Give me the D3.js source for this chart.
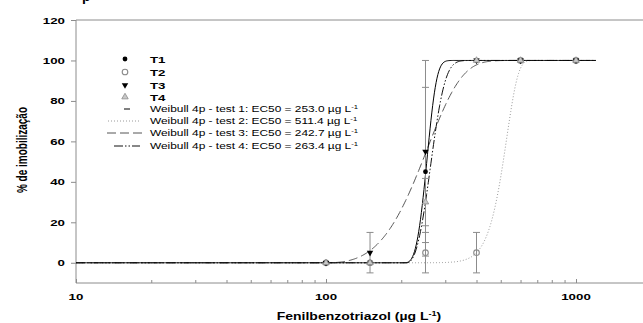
<!DOCTYPE html>
<html>
<head>
<meta charset="utf-8">
<script src="https://cdn.jsdelivr.net/npm/d3@7"></script>
<style>
body{margin:0;background:#fff}
text{font-family:"Liberation Sans",Arial,sans-serif}
</style>
</head>
<body>
<svg id="chart" width="643" height="323"></svg>
<script>
// measured data (mean % immobilised, +/- error)
var conc  = [100, 150, 250, 400, 600, 1000];
var t1    = [0, 0, 45, 100, 100, 100];
var t1Err = [0, 0, 41.7, 0, 0, 0];
var t2    = [0, 0, 5, 5, 100, 100];
var t2Err = [0, 0, 10, 10, 0, 0];
var t3    = [0, 5, 55, 100, 100, 100];
var t3Err = [0, 10, 45, 0, 0, 0];
var t4    = [0, 0, 30, 100, 100, 100];
var t4Err = [0, 0, 11.7, 0, 0, 0];

// Weibull 4p fits (max = 100): EC50, shape c, onset x
var fitEC50  = [253.0, 511.4, 242.7, 263.4];
var fitShape = [3.0, 7.07, 2.3, 2.29];
var fitStart = [205, 150, 100, 210];
var fitRange = [10, 1200];

var yTicks = [0, 20, 40, 60, 80, 100, 120];
var xTicks = [10, 100, 1000];
var legendT = ["T1", "T2", "T3", "T4"];
var legendFit = ["Weibull 4p - test 1: EC50 = 253.0 \u00b5g L",
                 "Weibull 4p - test 2: EC50 = 511.4 \u00b5g L",
                 "Weibull 4p - test 3: EC50 = 242.7 \u00b5g L",
                 "Weibull 4p - test 4: EC50 = 263.4 \u00b5g L"];

var W = 643, H = 323;
var plotLeft = 76, plotTop = 20, plotBottom = 283;
var stretch = 1.4;   // the original picture is widened horizontally
var axisGrey = "#8c8c8c";

var svg = d3.select("#chart");
var x = d3.scaleLog().domain([10, 1000]).range([plotLeft, 576]);
var y = d3.scaleLinear().domain([-10, 120]).range([plotBottom, plotTop]);

function label(g, px, py, str, size, weight, anchor){
  return g.append("text")
    .attr("transform", "translate(" + px + "," + py + ") scale(" + stretch + ",1)")
    .attr("font-size", size)
    .attr("font-weight", weight)
    .attr("text-anchor", anchor)
    .attr("fill", "#000")
    .text(str);
}

// cropped title remnant at top
svg.append("text").attr("x", 82).attr("y", 1).attr("font-size", 14)
  .attr("font-weight", "bold").text("p");

// frame
svg.append("line").attr("x1", plotLeft).attr("x2", W).attr("y1", plotTop).attr("y2", plotTop)
  .style("stroke", axisGrey);
svg.append("line").attr("x1", plotLeft).attr("x2", W).attr("y1", plotBottom).attr("y2", plotBottom)
  .style("stroke", axisGrey);
svg.append("line").attr("x1", plotLeft).attr("x2", plotLeft).attr("y1", plotTop).attr("y2", plotBottom)
  .style("stroke", axisGrey);

// y axis
var yAxis = svg.append("g").attr("transform", "translate(" + plotLeft + ",0)")
  .call(d3.axisLeft(y).tickValues(yTicks).tickSize(5).tickFormat(""));
yAxis.select(".domain").remove();
yAxis.selectAll("line").style("stroke", axisGrey);
yTicks.forEach(function(v){
  label(svg, 65, y(v) + 3.5, v, 9.5, "bold", "end");
});

// x axis ticks, drawn inward
var minor = [];
[10, 100, 1000].forEach(function(d){
  for (var k = 2; k <= 9; k++) minor.push(d * k);
});
var xAxis = svg.append("g").attr("transform", "translate(0," + plotBottom + ")")
  .call(d3.axisBottom(x).tickValues(minor).tickSize(-3).tickFormat(""));
xAxis.select(".domain").remove();
xAxis.selectAll("line").style("stroke", axisGrey);
var xMajor = svg.append("g").attr("transform", "translate(0," + plotBottom + ")")
  .call(d3.axisBottom(x).tickValues(xTicks).tickSize(-4).tickFormat(""));
xMajor.select(".domain").remove();
xMajor.selectAll("line").style("stroke", axisGrey);
xTicks.forEach(function(v){
  label(svg, x(v), 300, v, 9.5, "bold", "middle");
});

// axis titles
var xt = label(svg, 359, 320, "Fenilbenzotriazol (\u00b5g L", 10, "bold", "middle");
xt.append("tspan").attr("font-size", 6.5).attr("dy", -4).text("-1");
xt.append("tspan").attr("dy", 4).text(")");

svg.append("text")
  .attr("transform", "translate(27,150) rotate(-90) scale(1," + stretch + ")")
  .attr("font-size", 10).attr("font-weight", "bold").attr("text-anchor", "middle")
  .text("% de imobiliza\u00e7\u00e3o");

// fitted curves
var lineStyles = [
  {stroke: "#000", dash: null},
  {stroke: "#9a9a9a", dash: "1,2"},
  {stroke: "#555", dash: "9,4"},
  {stroke: "#111", dash: "9,2,1.5,2,1.5,2"}
];
function weibull(i, c){
  var t = fitStart[i], k = fitShape[i];
  var b = (fitEC50[i] - t) / Math.pow(Math.LN2, 1 / k);
  if (c <= t) return 0;
  return 100 * (1 - Math.exp(-Math.pow((c - t) / b, k)));
}
var l0 = Math.log10(fitRange[0]), l1 = Math.log10(fitRange[1]);
var xs = d3.range(600).map(function(i){
  return Math.pow(10, l0 + i / 599 * (l1 - l0));
});
var line = d3.line().x(function(d){ return x(d[0]); }).y(function(d){ return y(d[1]); });
var curveOrder = [1, 2, 3, 0];
curveOrder.forEach(function(i){
  var pts = xs.map(function(c){ return [c, weibull(i, c)]; });
  svg.append("path").attr("d", line(pts))
    .style("fill", "none")
    .style("stroke", lineStyles[i].stroke)
    .style("stroke-width", 1)
    .style("stroke-dasharray", lineStyles[i].dash);
});

// error bars
var series = [
  {v: t1, e: t1Err}, {v: t2, e: t2Err}, {v: t3, e: t3Err}, {v: t4, e: t4Err}
];
series.forEach(function(s){
  conc.forEach(function(c, j){
    if (!s.e[j]) return;
    var cx = x(c), y1 = y(s.v[j] - s.e[j]), y2 = y(s.v[j] + s.e[j]);
    svg.append("line").attr("x1", cx).attr("x2", cx).attr("y1", y1).attr("y2", y2)
      .style("stroke", axisGrey);
    [y1, y2].forEach(function(yy){
      svg.append("line").attr("x1", cx - 3.5).attr("x2", cx + 3.5).attr("y1", yy).attr("y2", yy)
        .style("stroke", axisGrey);
    });
  });
});

// markers
function marker(g, kind, px, py){
  if (kind === 0){
    g.append("circle").attr("cx", px).attr("cy", py).attr("r", 2.4).style("fill", "#000");
  } else if (kind === 1){
    g.append("circle").attr("cx", px).attr("cy", py).attr("r", 2.8)
      .style("fill", "none").style("stroke", "#8a8a8a").style("stroke-width", 1.1);
  } else if (kind === 2){
    g.append("path").attr("d", d3.symbol().type(d3.symbolTriangle).size(18)())
      .attr("transform", "translate(" + px + "," + py + ") rotate(180)")
      .style("fill", "#000");
  } else {
    g.append("path").attr("d", d3.symbol().type(d3.symbolTriangle).size(18)())
      .attr("transform", "translate(" + px + "," + py + ")")
      .style("fill", "#c8c8c8").style("stroke", "#8a8a8a").style("stroke-width", 0.8);
  }
}
// open circles first so the filled ones sit inside them
[1, 0, 2, 3].forEach(function(i){
  conc.forEach(function(c, j){ marker(svg, i, x(c), y(series[i].v[j])); });
});

// legend
var legY = [59, 72, 85, 97];
legendT.forEach(function(name, i){
  marker(svg, i, 125, legY[i]);
  label(svg, 150, legY[i] + 4, name, 9.5, "bold", "start");
});
var fitY = [109, 121, 133, 146];
var sample = [[124, 130], [108, 140], [107, 143], [114, 140]];
legendFit.forEach(function(txt, i){
  svg.append("line").attr("x1", sample[i][0]).attr("x2", sample[i][1])
    .attr("y1", fitY[i]).attr("y2", fitY[i])
    .style("stroke", lineStyles[i].stroke)
    .style("stroke-dasharray", lineStyles[i].dash);
  var t = label(svg, 150, fitY[i] + 3, txt, 8.5, "normal", "start");
  t.append("tspan").attr("font-size", 5.5).attr("dy", -3.5).text("-1");
});
</script>
</body>
</html>
